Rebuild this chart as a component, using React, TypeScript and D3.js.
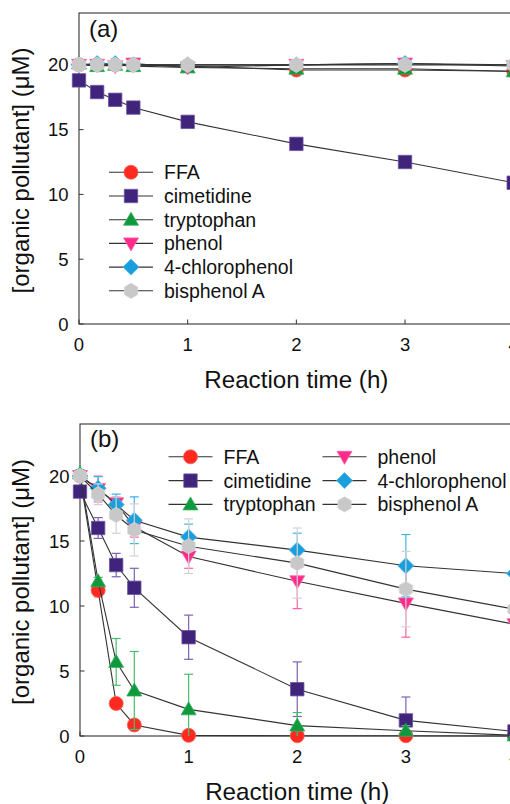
import * as d3 from "d3";

// time points (h)
const times = [0, 0.167, 0.333, 0.5, 1, 2, 3, 4];

const seriesNames = ["FFA", "cimetidine", "tryptophan", "phenol", "4-chlorophenol", "bisphenol A"];
const colors = ["#fe2a22", "#40237a", "#0f993d", "#fe2b8b", "#1b9fdc", "#c8c8c8"];
const strokeColors = ["#ff5a4a", "#6b52a3", "#35b05e", "#ff62a8", "#4db6e6", "#d6d6d6"];
const errColors = ["#ff7565", "#7d62b4", "#48bd6c", "#ff5faa", "#3fb4ea", "#d2d2d2"];
const shapes = ["circle", "square", "triUp", "triDown", "diamond", "hexagon"];

// panel (a) concentrations (uM)
const aFFA = [20, 20, 20, 20, 19.9, 19.6, 19.6, 19.5];
const aCimetidine = [18.8, 17.9, 17.3, 16.7, 15.6, 13.9, 12.5, 10.9];
const aTryptophan = [20.1, 19.9, 20, 19.9, 19.8, 19.7, 19.7, 19.5];
const aPhenol = [20, 20, 19.9, 20.1, 19.8, 20, 20.1, 19.9];
const aChlorophenol = [20, 20.1, 20.1, 20, 20, 20, 20.1, 20];
const aBisphenol = [20, 20, 20, 20, 20, 20, 20, 20];

// panel (b) concentrations (uM) and error bars
const bFFA = [20, 11.2, 2.5, 0.85, 0.05, 0.02, 0.02, 0];
const bCimetidine = [18.8, 16.0, 13.15, 11.4, 7.6, 3.6, 1.2, 0.35];
const bTryptophan = [20.2, 11.9, 5.7, 3.5, 2.05, 0.8, 0.4, 0.05];
const bPhenol = [20, 19.0, 17.9, 16.1, 13.8, 11.9, 10.2, 8.6];
const bChlorophenol = [20, 19.05, 17.8, 16.6, 15.3, 14.3, 13.1, 12.5];
const bBisphenol = [20, 18.6, 17.0, 15.85, 14.6, 13.3, 11.3, 9.75];

const eFFA = [0.2, 0.5, 0.3, 0.4, 0.2, 0.1, 0.1, 0.1];
const eCimetidine = [0.3, 0.8, 0.9, 1.5, 1.7, 2.1, 1.8, 0.3];
const eTryptophan = [0.3, 0.3, 1.8, 3.0, 2.7, 1.0, 0.4, 0.1];
const ePhenol = [0.3, 1.0, 0.5, 0.8, 0.9, 2.1, 2.6, 0.5];
const eChlorophenol = [0.3, 0.9, 0.8, 1.8, 1.0, 1.3, 2.4, 0.5];
const eBisphenol = [0.3, 0.8, 1.4, 2.0, 2.1, 2.7, 2.9, 0.5];

const yTicks = [0, 5, 10, 15, 20];
const xTicks = [0, 1, 2, 3, 4];

const FONT = "'Liberation Sans', Arial, sans-serif";

function markerPath(shape: string): string {
  switch (shape) {
    case "circle":
      return d3.symbol(d3.symbolCircle, Math.PI * 7 * 7)()!;
    case "square":
      return "M-6.7,-6.7H6.7V6.7H-6.7Z";
    case "triUp":
      return "M0,-7.5L7.5,5.5L-7.5,5.5Z";
    case "triDown":
      return "M0,7.5L7.5,-5.5L-7.5,-5.5Z";
    case "diamond":
      return "M0,-8L8,0L0,8L-8,0Z";
    default: {
      const r = 7.6;
      const pts = d3.range(6).map((i) => {
        const a = (Math.PI / 3) * i - Math.PI / 2;
        return [r * Math.cos(a), r * Math.sin(a)];
      });
      return "M" + pts.map((p) => p.join(",")).join("L") + "Z";
    }
  }
}

type PanelProps = {
  id: string;
  label: string;
  x0: number;
  x1: number;
  yBottom: number;
  yTop: number;
  values: number[][];
  errors?: number[][];
  legend: { x: number; y: number }[];
  labelY: number;
};

function Panel({ id, label, x0, x1, yBottom, yTop, values, errors, legend, labelY }: PanelProps) {
  const x = d3.scaleLinear().domain([0, 4]).range([x0, x1]);
  const y = d3.scaleLinear().domain([0, 24]).range([yBottom, yTop]);
  const line = d3
    .line<number>()
    .x((_, i) => x(times[i]))
    .y((d) => y(d));

  return (
    <g>
      <defs>
        <clipPath id={"clip-" + id}>
          <rect x={x0 - 10} y={yTop} width={x1 - x0 + 20} height={yBottom - yTop} />
        </clipPath>
      </defs>

      {/* frame */}
      <rect x={x0} y={yTop} width={x1 - x0} height={yBottom - yTop} fill="none" stroke="#333" strokeWidth={1.1} />
      {xTicks.map((t) => (
        <g key={"xt" + t}>
          <line x1={x(t)} x2={x(t)} y1={yBottom} y2={yBottom - 4.5} stroke="#333" />
          <text x={x(t)} y={yBottom + 27} textAnchor="middle" fontSize={18.5} fontFamily={FONT} fill="#111">
            {t}
          </text>
        </g>
      ))}
      {yTicks.map((t) => (
        <g key={"yt" + t}>
          <line x1={x0} x2={x0 + 4.5} y1={y(t)} y2={y(t)} stroke="#333" />
          <text x={x0 - 10.5} y={y(t)} dy="0.36em" textAnchor="end" fontSize={18.5} fontFamily={FONT} fill="#111">
            {t}
          </text>
        </g>
      ))}
      <text x={(x0 + x1) / 2} y={yBottom + 64} textAnchor="middle" fontSize={24.2} fontFamily={FONT} fill="#111">
        Reaction time (h)
      </text>
      <text
        transform={`translate(29,${(yTop + yBottom) / 2 + 2}) rotate(-90)`}
        textAnchor="middle"
        fontSize={24}
        fontFamily={FONT}
        fill="#111"
      >
        [organic pollutant] (μM)
      </text>
      <text x={x0 + 10} y={labelY} fontSize={24} fontFamily={FONT} fill="#111">
        {label}
      </text>

      {/* data */}
      {values.map((vals, s) => (
        <g key={"s" + s}>
          {errors && (
            <g clipPath={`url(#clip-${id})`} stroke={errColors[s]} strokeWidth={1.2}>
              {vals.map((v, i) => {
                const e = errors[s][i];
                const cx = x(times[i]);
                return (
                  <g key={i}>
                    <line x1={cx} x2={cx} y1={y(v - e)} y2={y(v + e)} />
                    <line x1={cx - 4.5} x2={cx + 4.5} y1={y(v + e)} y2={y(v + e)} />
                    <line x1={cx - 4.5} x2={cx + 4.5} y1={y(v - e)} y2={y(v - e)} />
                  </g>
                );
              })}
            </g>
          )}
          <path d={line(vals)!} fill="none" stroke="#333" strokeWidth={1.1} />
          {vals.map((v, i) => (
            <path
              key={i}
              d={markerPath(shapes[s])}
              transform={`translate(${x(times[i])},${y(v)})`}
              fill={colors[s]}
              stroke={strokeColors[s]}
              strokeWidth={0.8}
            />
          ))}
        </g>
      ))}

      {/* legend */}
      {legend.map((p, s) => (
        <g key={"lg" + s} transform={`translate(${p.x},${p.y})`}>
          <line x1={-22} x2={22} y1={0} y2={0} stroke="#333" strokeWidth={1.1} />
          <path d={markerPath(shapes[s])} fill={colors[s]} stroke={strokeColors[s]} strokeWidth={0.8} />
          <text x={33} y={0} dy="0.36em" fontSize={19.5} fontFamily={FONT} fill="#111">
            {seriesNames[s]}
          </text>
        </g>
      ))}
    </g>
  );
}

export default function App() {
  const legendA = seriesNames.map((_, i) => ({ x: 131, y: 172.3 + i * 23.7 }));
  const legendB = seriesNames.map((_, i) => ({
    x: i < 3 ? 190.5 : 344.5,
    y: 456.8 + (i % 3) * 23.8,
  }));

  return (
    <svg width={510} height={804} style={{ position: "absolute", left: 0, top: 0, background: "#fff" }}>
      <Panel
        id="a"
        label="(a)"
        x0={79}
        x1={513.7}
        yBottom={324}
        yTop={13}
        values={[aFFA, aCimetidine, aTryptophan, aPhenol, aChlorophenol, aBisphenol]}
        legend={legendA}
        labelY={37}
      />
      <Panel
        id="b"
        label="(b)"
        x0={80}
        x1={514.5}
        yBottom={736}
        yTop={424}
        values={[bFFA, bCimetidine, bTryptophan, bPhenol, bChlorophenol, bBisphenol]}
        errors={[eFFA, eCimetidine, eTryptophan, ePhenol, eChlorophenol, eBisphenol]}
        legend={legendB}
        labelY={447}
      />
    </svg>
  );
}
